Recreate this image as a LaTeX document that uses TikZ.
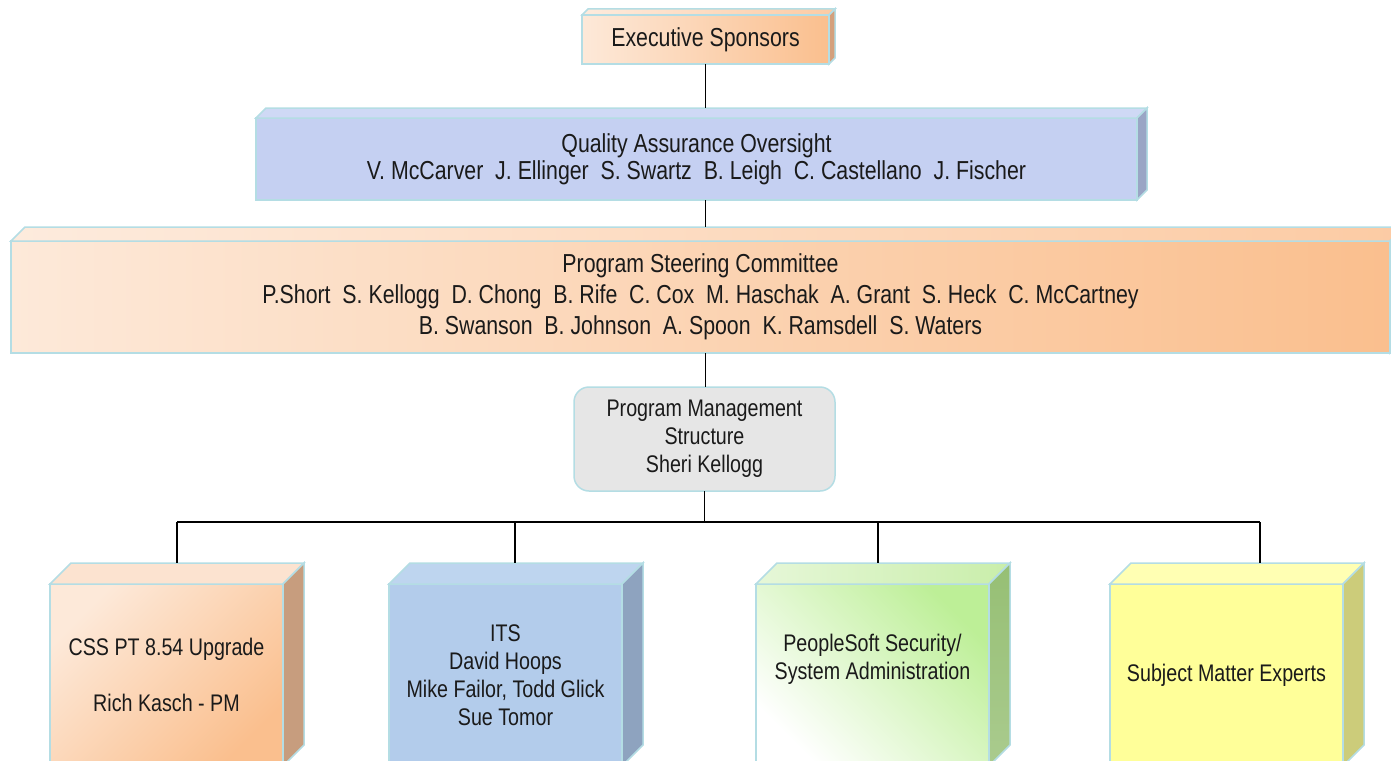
\documentclass[tikz,border=0pt]{standalone}
\usepackage{fontspec}
\setmainfont{Liberation Sans}[FakeStretch=0.82]
\usepackage{xcolor}

\definecolor{edge}{HTML}{B4DDE4}
\definecolor{ink}{HTML}{1A1A1A}
\definecolor{peachlt}{HTML}{FDE9D9}
\definecolor{peachdk}{HTML}{FABF8E}
\definecolor{peachtop}{HTML}{FDEBDD}
\definecolor{peachtopdk}{HTML}{FCCBA4}
\definecolor{peachside}{HTML}{D4A07C}
\definecolor{qafront}{HTML}{C5D0F2}
\definecolor{qatop}{HTML}{CFD9F5}
\definecolor{qaside}{HTML}{9AA5C5}
\definecolor{pmgray}{HTML}{E6E6E6}
\definecolor{csstop}{HTML}{FCE3D0}
\definecolor{cssside}{HTML}{C79D7E}
\definecolor{itsfront}{HTML}{B3CCEB}
\definecolor{itstop}{HTML}{BED5EF}
\definecolor{itsside}{HTML}{8EA3BF}
\definecolor{psgreen}{HTML}{BDEF97}
\definecolor{pstoplt}{HTML}{E6F7D8}
\definecolor{pstopdk}{HTML}{C9EEAA}
\definecolor{psside}{HTML}{96BF74}
\definecolor{pssidelt}{HTML}{AACB8E}
\definecolor{smefront}{HTML}{FFFF99}
\definecolor{smetop}{HTML}{FFFFB3}
\definecolor{smeside}{HTML}{CCCC7A}

\newcommand{\fsbig}{\fontsize{26}{27}\selectfont}
\newcommand{\fswide}{\fontsize{26}{31}\selectfont}
\newcommand{\fsnorm}{\fontsize{24}{28}\selectfont}

% top and side faces of a box: node, depth, top options, side options
\newcommand{\cubefaces}[4]{%
  \path[draw=edge, line width=1.5pt, #3] (#1.north west) -- ++(#2,-#2)
    -- ([shift={(#2,-#2)}]#1.north east) -- (#1.north east) -- cycle;
  \path[draw=edge, line width=1.5pt, #4] (#1.north east) -- ++(#2,-#2)
    -- ([shift={(#2,-#2)}]#1.south east) -- (#1.south east) -- cycle;
}

\tikzset{
  front/.style={draw=edge, line width=1.5pt, inner sep=0pt, outer sep=0pt,
    align=center, text=ink, font=\fsnorm},
  link/.style={draw=black, line width=1.5pt},
}

\begin{document}
\begin{tikzpicture}[x=1pt, y=-1pt]
\clip (0,0) rectangle (1391,760);

% Executive Sponsors
\node[front, minimum width=247pt, minimum height=49pt, left color=peachlt,
  right color=peachdk, font=\fsbig] (exec) at (705.5,39.5) {Executive Sponsors};
\cubefaces{exec}{6}{left color=peachtop, right color=peachtopdk}{fill=peachside}

% Quality Assurance Oversight
\node[front, minimum width=881pt, minimum height=82pt, fill=qafront, font=\fsbig]
  (qa) at (696.5,159) {Quality Assurance Oversight\\
  V. McCarver~~J. Ellinger~~S. Swartz~~B. Leigh~~C. Castellano~~J. Fischer};
\cubefaces{qa}{10}{fill=qatop}{fill=qaside}

% Program Steering Committee
\node[front, minimum width=1379pt, minimum height=112pt, left color=peachlt,
  right color=peachdk, font=\fswide] (psc) at (700.5,297) {Program Steering Committee\\
  P.Short~~S. Kellogg~~D. Chong~~B. Rife~~C. Cox~~M. Haschak~~A. Grant~~S. Heck~~C. McCartney\\
  B. Swanson~~B. Johnson~~A. Spoon~~K. Ramsdell~~S. Waters};
\cubefaces{psc}{14}{left color=peachtop, right color=peachtopdk}{fill=peachside}

% Program Management
\node[front, rounded corners=15pt, minimum width=261pt, minimum height=104pt,
  fill=pmgray] (pm) at (704.5,439) {Program Management\\Structure\\Sheri Kellogg};

% Teams
\node[front, minimum width=233pt, minimum height=182pt, top color=peachlt,
  bottom color=peachdk, shading angle=45] (css) at (166.5,675)
  {CSS PT 8.54 Upgrade\\\strut\\Rich Kasch - PM};
\cubefaces{css}{21}{fill=csstop}{fill=cssside}

\node[front, minimum width=233pt, minimum height=182pt, fill=itsfront]
  (its) at (505.5,675) {ITS\\David Hoops\\Mike Failor, Todd Glick\\Sue Tomor};
\cubefaces{its}{21}{fill=itstop}{fill=itsside}

\node[front, minimum width=233pt, minimum height=182pt, top color=psgreen,
  bottom color=white, shading angle=-45] (ps) at (872.5,675)
  {PeopleSoft Security/\\System Administration\\\strut};
\cubefaces{ps}{21}{left color=pstoplt, right color=pstopdk}{top color=psside, bottom color=pssidelt}

\node[front, minimum width=233pt, minimum height=182pt, fill=smefront]
  (sme) at (1226.5,675) {Subject Matter Experts};
\cubefaces{sme}{21}{fill=smetop}{fill=smeside}

% Connectors
\coordinate (qatop) at ([yshift=10pt]qa.north);
\coordinate (psctop) at ([yshift=14pt]psc.north);
\draw[link] (exec.south) -- (exec.south |- qatop);
\draw[link] (exec.south |- qa.south) -- (exec.south |- psctop);
\draw[link] (exec.south |- psc.south) -- (exec.south |- pm.north);

\coordinate (busL) at (177,522);
\coordinate (busR) at (1260,522);
\draw[link] (pm.south) -- (pm.south |- busL);
\draw[link] (busL) -- (busR);
\foreach \n/\x in {css/177, its/515, ps/878, sme/1260} {
  \coordinate (\n top) at ([yshift=21pt]\n.north);
  \coordinate (\n drop) at (\x,522);
  \draw[link] (\n drop) -- (\n drop |- \n top);
}
\end{tikzpicture}
\end{document}
